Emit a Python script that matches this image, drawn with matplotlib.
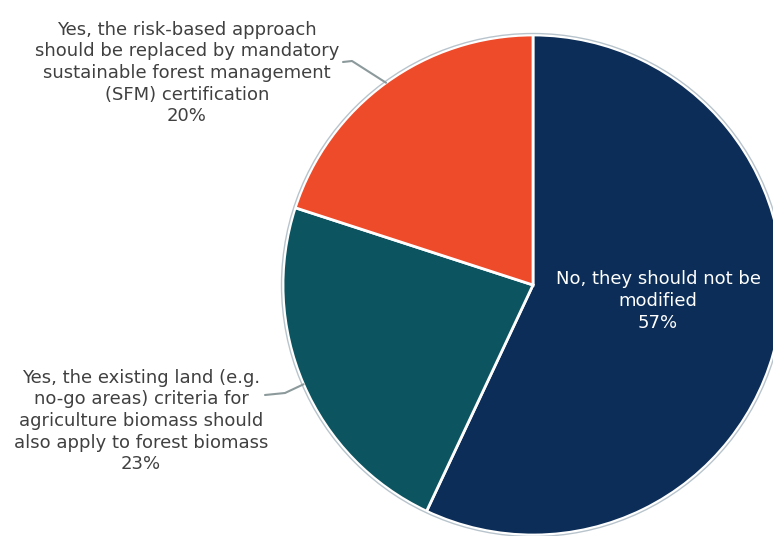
import matplotlib.pyplot as plt
import numpy as np

labels = ["No, they should not be\nmodified",
          "Yes, the existing land (e.g.\nno-go areas) criteria for\nagriculture biomass should\nalso apply to forest biomass",
          "Yes, the risk-based approach\nshould be replaced by mandatory\nsustainable forest management\n(SFM) certification"]
shares = [57, 23, 20]
colors = ['#0b2d57', '#0b5460', '#ee4b2b']

W, H = 773, 536
fig = plt.figure(figsize=(W / 100, H / 100), dpi=100)
ax = fig.add_axes([0, 0, 1, 1])

cx, cy, r = 533, H - 285, 250
wedges, _ = ax.pie(shares, colors=colors, startangle=90, counterclock=False,
                   center=(cx, cy), radius=r, frame=True,
                   wedgeprops=dict(edgecolor='white', linewidth=2))
ax.set_xlim(0, W)
ax.set_ylim(0, H)
ax.set_aspect('equal')
ax.axis('off')
# thin light outline round the pie
ax.add_patch(plt.Circle((cx, cy), r + 1.5, fill=False, edgecolor='#b8c4cc', linewidth=1))

txt = '#404040'
fs = 13
ls = 1.25
# inside label for the big slice
ax.text(658, H - 301, f"{labels[0]}\n{shares[0]}%", color='white', fontsize=fs,
        ha='center', va='center', linespacing=ls)

# outside labels with leader lines
ax.text(187, H - 73, f"{labels[2]}\n{shares[2]}%", color=txt, fontsize=fs,
        ha='center', va='center', linespacing=ls)
ax.text(141, H - 421, f"{labels[1]}\n{shares[1]}%", color=txt, fontsize=fs,
        ha='center', va='center', linespacing=ls)

for w, (x0, y0), (x1, y1) in [(wedges[2], (343, 62), (352, 61)),
                              (wedges[1], (265, 395), (285, 393))]:
    mid = np.deg2rad((w.theta1 + w.theta2) / 2)
    ex, ey = cx + r * np.cos(mid), cy + r * np.sin(mid)
    ax.plot([x0, x1, ex], [H - y0, H - y1, ey], color='#8c9a9c', linewidth=1.5,
            solid_capstyle='round')

fig.savefig('out.png', dpi=100, facecolor='white')
